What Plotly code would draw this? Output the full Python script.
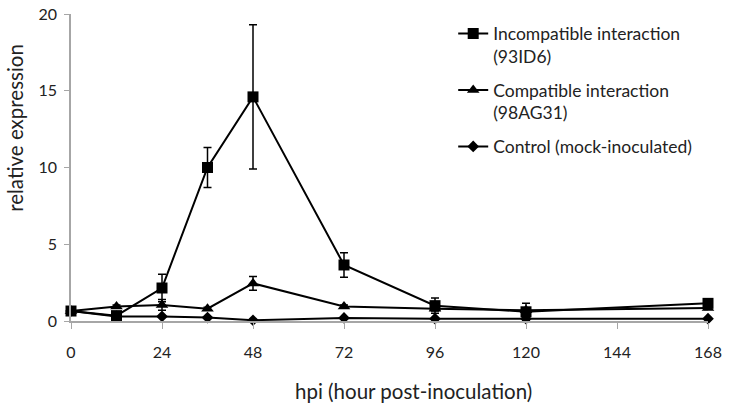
import plotly.graph_objects as go

# ── Data ─────────────────────────────────────────────────────────────────────
hpi = [0, 12, 24, 36, 48, 72, 96, 120, 168]

incompatible = [0.65, 0.35, 2.15, 10.0, 14.6, 3.65, 1.0, 0.6, 1.15]
incompatible_err = [0.1, 0.1, 0.9, 1.3, 4.7, 0.8, 0.5, 0.55, 0.15]

compatible = [0.65, 0.95, 1.05, 0.8, 2.45, 0.95, 0.8, 0.7, 0.85]
compatible_err = [0.1, 0.1, 0.35, 0.1, 0.45, 0.1, 0.15, 0.15, 0.1]

control = [0.65, 0.3, 0.3, 0.22, 0.05, 0.2, 0.15, 0.15, 0.15]
control_err = [0.05, 0.05, 0.05, 0.05, 0.05, 0.05, 0.05, 0.05, 0.05]

x_ticks = [0, 24, 48, 72, 96, 120, 144, 168]
y_ticks = [0, 5, 10, 15, 20]

FONT = "Lato, 'Open Sans', sans-serif"
AXIS_GRAY = "#A6A6A6"
TEXT = "#222222"

series = [
    ("Incompatible interaction<br>(93ID6)", incompatible, incompatible_err, "square", 11),
    ("Compatible interaction<br>(98AG31)", compatible, compatible_err, "triangle-up", 11),
    ("Control (mock-inoculated)", control, control_err, "diamond", 9),
]

fig = go.Figure()
for i, (name, y, err, symbol, size) in enumerate(series):
    fig.add_trace(go.Scatter(
        x=hpi, y=y, name=name, mode="lines+markers", legendgroup=f"g{i}",
        line=dict(color="black", width=2),
        marker=dict(symbol=symbol, size=size, color="black"),
        error_y=dict(type="data", array=err, visible=True,
                     color="black", thickness=1.5, width=4),
        cliponaxis=False,
    ))

fig.update_layout(
    width=754, height=407,
    paper_bgcolor="white", plot_bgcolor="white",
    margin=dict(l=71, r=46, t=14, b=86),
    font=dict(family=FONT, size=16, color=TEXT),
    showlegend=True,
    legend=dict(
        x=0.6, y=0.995, xanchor="left", yanchor="top", valign="top",
        bgcolor="rgba(0,0,0,0)", font=dict(size=17.5, family=FONT),
        tracegroupgap=8, itemwidth=30,
    ),
    xaxis=dict(
        range=[0, 168], tickvals=x_ticks, showgrid=False, zeroline=False,
        showline=True, linecolor=AXIS_GRAY, linewidth=1.5,
        ticks="outside", tickcolor=AXIS_GRAY, ticklen=6, ticklabelstandoff=10,
        tickfont=dict(size=16), automargin=False, ticklabeloverflow="allow",
    ),
    yaxis=dict(
        range=[0, 20], tickvals=y_ticks, showgrid=False, zeroline=False,
        showline=True, linecolor=AXIS_GRAY, linewidth=1.5,
        ticks="outside", tickcolor=AXIS_GRAY, ticklen=5, ticklabelstandoff=4,
        tickfont=dict(size=16), automargin=False, ticklabeloverflow="allow",
    ),
    annotations=[
        dict(text="hpi (hour post-inoculation)", xref="paper", yref="paper",
             x=0.537, y=-0.228, xanchor="center", yanchor="middle",
             showarrow=False, font=dict(size=20.5)),
        dict(text="relative expression", xref="paper", yref="paper",
             x=-0.088, y=0.629, xanchor="center", yanchor="middle",
             textangle=-90, showarrow=False, font=dict(size=20.5)),
    ],
)

# drop the default 8px body margin so the figure fills the window exactly
fig.write_html("out.html", config={"displayModeBar": False},
               post_script="document.body.style.margin='0';")
